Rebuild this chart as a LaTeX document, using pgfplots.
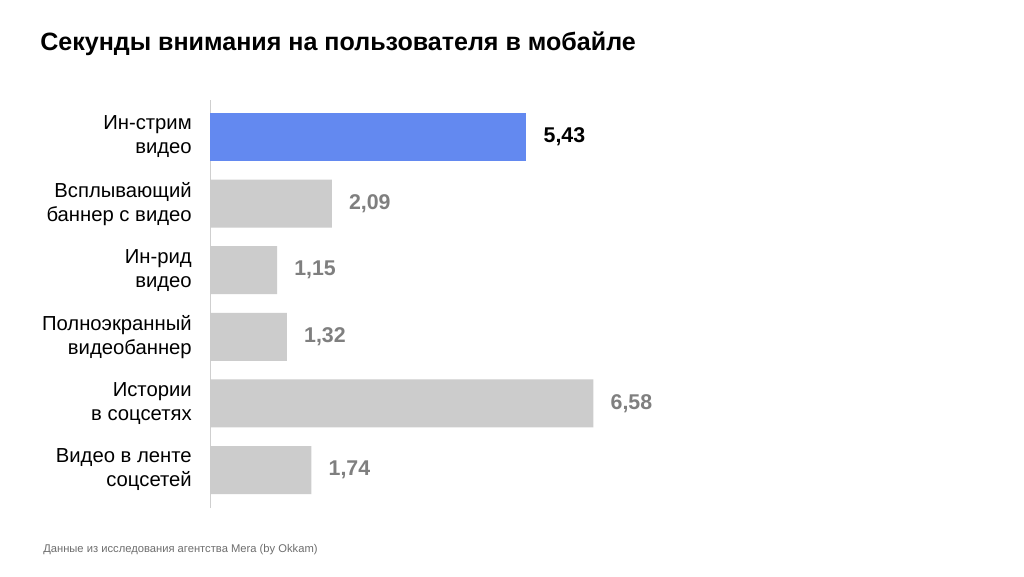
\documentclass[border=0pt]{standalone}
\usepackage{fontspec}
\setmainfont{Liberation Sans}
\usepackage{pgfplots}
\pgfplotsset{compat=1.18}
\definecolor{barblue}{HTML}{6389F0}
\definecolor{bargray}{HTML}{CCCCCC}
\definecolor{valgray}{HTML}{7F7F7F}
\definecolor{axgray}{HTML}{CFCFCF}
\definecolor{footgray}{HTML}{6E6E6E}
\begin{document}
\begin{tikzpicture}[x=1pt,y=1pt]
\path[use as bounding box, fill=white] (0,0) rectangle (768,432);
\node[anchor=base west, inner sep=0pt, font=\fontsize{18.8}{22}\selectfont\bfseries] at (30,394) {Секунды внимания на пользователя в мобайле};
\node[anchor=base west, inner sep=0pt, text=footgray, font=\fontsize{8.4}{10}\selectfont] at (32.25,18) {Данные из исследования агентства Mera (by Okkam)};
\begin{axis}[
  at={(157.5pt,51pt)}, anchor=south west,
  x=43.7pt, y=49.95pt,
  xmin=0, xmax=10, ymin=-0.57, ymax=5.556,
  axis x line=none, axis y line*=left,
  axis line style={draw=axgray, line width=0.75pt},
  y axis line style={-},
  ytick={0,1,2,3,4,5},
  yticklabels={{Видео в ленте\\соцсетей},{Истории\\в соцсетях},{Полноэкранный\\видеобаннер},{Ин-рид\\видео},{Всплывающий\\баннер с видео},{Ин-стрим\\видео}},
  major tick length=0pt,
  yticklabel style={align=right, inner sep=0pt, xshift=-13.5pt, font=\fontsize{15.2}{18}\selectfont},
  xbar, bar width=36pt, bar shift=0pt,
  clip=false,
  nodes near coords,
  point meta=x,
  /pgf/number format/assume math mode=true,
  /pgf/number format/use comma,
  /pgf/number format/fixed,
  /pgf/number format/fixed zerofill,
  /pgf/number format/precision=2,
  nodes near coords style={anchor=west, inner sep=0pt, xshift=12.75pt, font=\fontsize{16}{18}\selectfont\bfseries},
]
\addplot[draw=none, fill=bargray, nodes near coords style={text=valgray}] coordinates {(1.74,0) (6.58,1) (1.32,2) (1.15,3) (2.09,4)};
\addplot[draw=none, fill=barblue, nodes near coords style={text=black}] coordinates {(5.43,5)};
\end{axis}
\end{tikzpicture}
\end{document}
